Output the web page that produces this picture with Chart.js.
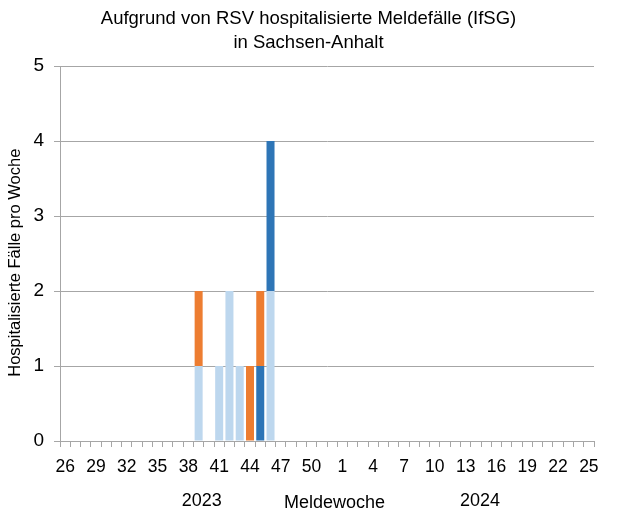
<!DOCTYPE html>
<html>
<head>
<meta charset="utf-8">
<script src="https://cdn.jsdelivr.net/npm/chart.js@4"></script>
<style>
  body { margin: 0; background: #fff; }
  #wrap { width: 617px; height: 515px; }
</style>
</head>
<body>
<div id="wrap"><canvas id="rsvChart" width="617" height="515"></canvas></div>
<script>
// Meldewochen 26/2023 bis 25/2024
const weeks2023 = [26,27,28,29,30,31,32,33,34,35,36,37,38,39,40,41,42,43,44,45,46,47,48,49,50,51,52];
const weeks2024 = [1,2,3,4,5,6,7,8,9,10,11,12,13,14,15,16,17,18,19,20,21,22,23,24,25];
const weekLabels = weeks2023.concat(weeks2024).map(String);

// Faelle pro Woche, nur Wochen mit Meldungen (alle in 2023)
const lightCases = { '39': 1, '41': 1, '42': 2, '43': 1, '46': 2 };
const darkCases = { '45': 1, '46': 2 };
const orangeCases = { '39': 1, '44': 1, '45': 1 };

const yTicks = [0, 1, 2, 3, 4, 5];
const yearLabels = ['2023', '2024'];

function seriesFor(cases) {
    return weekLabels.map(function (w, i) {
        return i < weeks2023.length && cases[w] !== undefined ? cases[w] : 0;
    });
}

const fontName = "'Liberation Sans', Arial, sans-serif";
const gridGray = '#A6A6A6';

const yearPlugin = {
    id: 'yearLabels',
    afterDraw(chart) {
        const ctx = chart.ctx;
        const x = chart.scales.x;
        ctx.save();
        ctx.font = '18px ' + fontName;
        ctx.fillStyle = '#000';
        ctx.textAlign = 'center';
        ctx.textBaseline = 'middle';
        ctx.fillText(yearLabels[0], x.getPixelForValue(13.3), 501);
        ctx.fillText(yearLabels[1], x.getPixelForValue(40.4), 501);
        ctx.restore();
    }
};

const ctx = document.getElementById('rsvChart').getContext('2d');
new Chart(ctx, {
    type: 'bar',
    data: {
        labels: weekLabels,
        datasets: [
            { label: 'Serie 1', data: seriesFor(lightCases), backgroundColor: '#BDD7EE' },
            { label: 'Serie 2', data: seriesFor(darkCases), backgroundColor: '#2E75B6' },
            { label: 'Serie 3', data: seriesFor(orangeCases), backgroundColor: '#ED7D31' }
        ]
    },
    options: {
        responsive: false,
        animation: false,
        categoryPercentage: 1.0,
        barPercentage: 0.78,
        layout: { padding: 0 },
        plugins: {
            legend: { display: false },
            tooltip: { enabled: false },
            title: {
                display: true,
                text: ['Aufgrund von RSV hospitalisierte Meldefälle (IfSG)', 'in Sachsen-Anhalt'],
                color: '#000',
                font: { family: fontName, size: 18.5, weight: 'normal', lineHeight: 1.3 },
                padding: { top: 7, bottom: 11 }
            }
        },
        scales: {
            x: {
                stacked: true,
                afterFit(scale) {
                    scale.height = 74;
                    scale.paddingRight = 23;
                },
                grid: {
                    drawOnChartArea: false,
                    drawTicks: true,
                    tickLength: 6,
                    color: gridGray
                },
                border: { color: gridGray },
                ticks: {
                    autoSkip: false,
                    maxRotation: 0,
                    color: '#000',
                    padding: 10,
                    font: { family: fontName, size: 17.5 },
                    callback: function (val, i) {
                        return i % 3 === 0 ? weekLabels[i] : '';
                    }
                },
                title: {
                    display: true,
                    text: '   Meldewoche',
                    color: '#000',
                    font: { family: fontName, size: 18 },
                    padding: { top: 8, bottom: 1 }
                }
            },
            y: {
                stacked: true,
                min: 0,
                max: 5,
                afterFit(scale) { scale.width = 60; },
                afterBuildTicks(scale) {
                    scale.ticks = yTicks.map(function (v) { return { value: v }; });
                },
                grid: {
                    color: gridGray,
                    tickLength: 6
                },
                border: { color: gridGray },
                ticks: {
                    color: '#000',
                    padding: 10,
                    font: { family: fontName, size: 19 }
                },
                title: {
                    display: true,
                    text: 'Hospitalisierte Fälle pro Woche    ',
                    color: '#000',
                    font: { family: fontName, size: 16.5 },
                    padding: { top: 6, bottom: 0 }
                }
            }
        }
    },
    plugins: [yearPlugin]
});
</script>
</body>
</html>
